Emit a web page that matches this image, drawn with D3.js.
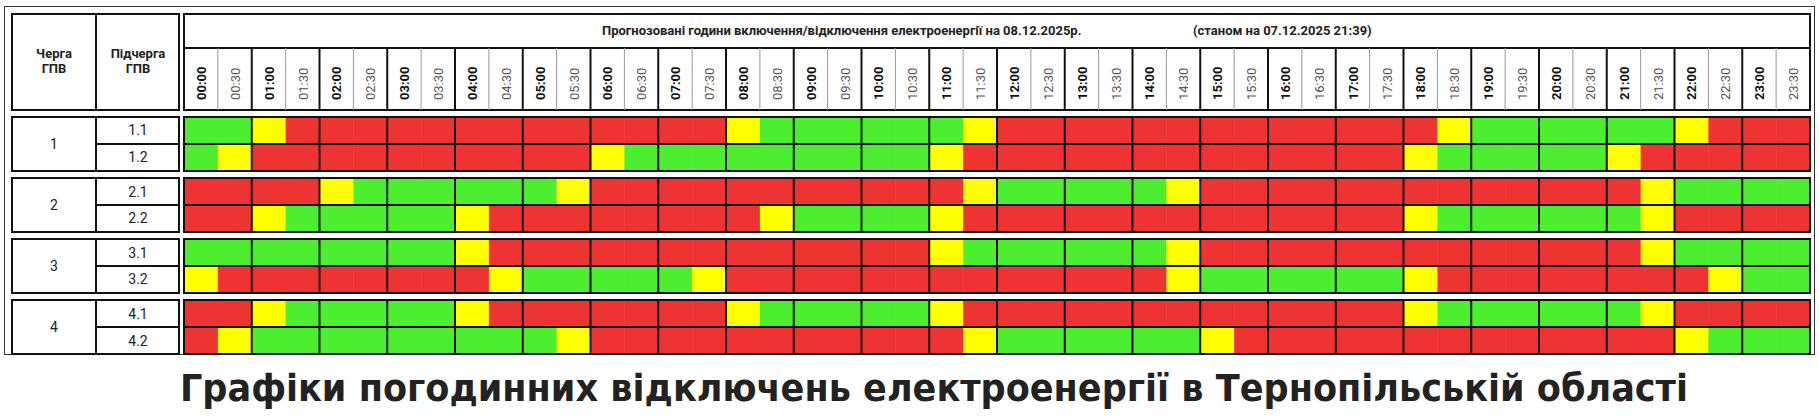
<!DOCTYPE html>
<html><head><meta charset="utf-8">
<script src="https://cdn.jsdelivr.net/npm/d3@7"></script>
<style>body{margin:0;background:#fff}</style>
</head><body><svg id="chart" width="1819" height="417"></svg>
<script>
// черги / підчерги
var queues = ["1", "2", "3", "4"];
var subQueues = ["1.1", "1.2", "2.1", "2.2", "3.1", "3.2", "4.1", "4.2"];
// G - є світло, R - відключення, Y - можливе
var slots1_1 = "GGYRRRRRRRRRRRRRRRYGGGGGGYRRRRRRRRRRRRRYGGGGGGYRRR";
var rows = {
  "1.1": "GG YR RR RR RR RR RR RR YG GG GG GY RR RR RR RR RR RR RY GG GG GG YR RR",
  "1.2": "GY RR RR RR RR RR YG GG GG GG GG YR RR RR RR RR RR RR YG GG GG YR RR RR",
  "2.1": "RR RR YG GG GG GY RR RR RR RR RR RY GG GG GY RR RR RR RR RR RR RY GG GG",
  "2.2": "RR YG GG GG YR RR RR RR RY GG GG YR RR RR RR RR RR RR YG GG GG GY RR RR",
  "3.1": "GG GG GG GG YR RR RR RR RR RR RR YG GG GG GY RR RR RR RR RR RR RY GG GG",
  "3.2": "YR RR RR RR RY GG GG GY RR RR RR RR RR RR RY GG GG GG YR RR RR RR RY GG",
  "4.1": "RR YG GG GG YR RR RR RR YG GG GG YR RR RR RR RR RR RR YG GG GG GY RR RR",
  "4.2": "RY GG GG GG GG GY RR RR RR RR RR RY GG GG GG YR RR RR RR RR RR RR YG GG"
};
var times = [];
for (var h = 0; h < 24; h++) {
  var hh = (h < 10 ? "0" : "") + h;
  times.push(hh + ":00", hh + ":30");
}
var title = "Прогнозовані години включення/відключення електроенергії на 08.12.2025р.";
var stamp = "(станом на 07.12.2025 21:39)";
var footer = "Графіки погодинних відключень електроенергії в Тернопільській області";

var colors = {G: "#4ded30", R: "#ee3333", Y: "#ffff00"};
var svg = d3.select("#chart");
var dark = "#111";

var x = d3.scaleBand().domain(times).range([184, 1810]);
var groupY = d3.scaleBand().domain(queues).range([117, 354]).paddingInner(0.115).paddingOuter(0);
function rowY(sq) { return groupY(sq.split(".")[0]) + (sq.split(".")[1] - 1) * groupY.bandwidth() / 2; }
var rowH = groupY.bandwidth() / 2;

// outer frame
svg.append("rect").attr("x", 4.5).attr("y", 6.5).attr("width", 1810).attr("height", 348)
  .attr("fill", "none").attr("stroke", "#333").attr("stroke-width", 1);

// header
svg.append("rect").attr("x", 12).attr("y", 14).attr("width", 167).attr("height", 96)
  .attr("fill", "#fff").attr("stroke", dark).attr("stroke-width", 2);
svg.append("line").attr("x1", 96).attr("x2", 96).attr("y1", 14).attr("y2", 110).attr("stroke", dark).attr("stroke-width", 2);
svg.append("rect").attr("x", 184).attr("y", 14).attr("width", 1626).attr("height", 96)
  .attr("fill", "#fff").attr("stroke", dark).attr("stroke-width", 2);
svg.append("line").attr("x1", 184).attr("x2", 1810).attr("y1", 48).attr("y2", 48).attr("stroke", dark).attr("stroke-width", 2);

[["Черга", "ГПВ", 54], ["Підчерга", "ГПВ", 138]].forEach(function (d) {
  var t = svg.append("text").attr("text-anchor", "middle").attr("font-family", "Roboto, sans-serif")
    .attr("font-weight", "bold").attr("font-size", 13).attr("fill", "#222");
  t.append("tspan").attr("x", d[2]).attr("y", 58).text(d[0]);
  t.append("tspan").attr("x", d[2]).attr("y", 73).text(d[1]);
});

svg.append("text").attr("x", 602).attr("y", 35).attr("font-family", "Roboto, sans-serif")
  .attr("font-weight", "bold").attr("font-size", 13).attr("fill", "#222").text(title);
svg.append("text").attr("x", 1193).attr("y", 35).attr("font-family", "Roboto, sans-serif")
  .attr("font-weight", "bold").attr("font-size", 13).attr("fill", "#222").text(stamp);

svg.selectAll(".hline").data(times.slice(1)).enter().append("line")
  .attr("x1", function (d) { return x(d); }).attr("x2", function (d) { return x(d); })
  .attr("y1", 48).attr("y2", 110)
  .attr("stroke", function (d, i) { return i % 2 ? dark : "#999"; })
  .attr("stroke-width", function (d, i) { return i % 2 ? 2 : 1; });

svg.selectAll(".tlabel").data(times).enter().append("text")
  .attr("transform", function (d) { return "translate(" + (x(d) + x.bandwidth() / 2 + 5) + ",100) rotate(-90)"; })
  .attr("font-family", "Roboto, sans-serif").attr("font-size", 13)
  .attr("font-weight", function (d, i) { return i % 2 ? "normal" : "bold"; })
  .attr("fill", function (d, i) { return i % 2 ? "#555" : "#111"; })
  .text(function (d) { return d; });

// cells
subQueues.forEach(function (sq) {
  var codes = rows[sq].replace(/ /g, "").split("");
  svg.selectAll(".c" + sq.replace(".", "_")).data(codes).enter().append("rect")
    .attr("x", function (d, i) { return x(times[i]); })
    .attr("y", rowY(sq)).attr("width", x.bandwidth() + 0.5).attr("height", rowH)
    .attr("fill", function (d) { return colors[d]; });
});

// groups: left cells and grid lines
queues.forEach(function (q) {
  var y0 = groupY(q), gh = groupY.bandwidth();
  svg.append("rect").attr("x", 12).attr("y", y0).attr("width", 167).attr("height", gh)
    .attr("fill", "none").attr("stroke", dark).attr("stroke-width", 2);
  svg.append("line").attr("x1", 96).attr("x2", 96).attr("y1", y0).attr("y2", y0 + gh).attr("stroke", dark).attr("stroke-width", 2);
  svg.append("line").attr("x1", 96).attr("x2", 179).attr("y1", y0 + rowH).attr("y2", y0 + rowH).attr("stroke", dark).attr("stroke-width", 2);
  svg.append("text").attr("x", 54).attr("y", y0 + gh / 2 + 5).attr("text-anchor", "middle")
    .attr("font-family", "Roboto, sans-serif").attr("font-size", 14).attr("fill", "#222").text(q);
  svg.append("rect").attr("x", 184).attr("y", y0).attr("width", 1626).attr("height", gh)
    .attr("fill", "none").attr("stroke", dark).attr("stroke-width", 2);
  svg.append("line").attr("x1", 184).attr("x2", 1810).attr("y1", y0 + rowH).attr("y2", y0 + rowH).attr("stroke", dark).attr("stroke-width", 2);
  svg.selectAll(".v" + q).data(times.filter(function (d, i) { return i % 2 == 0 && i > 0; })).enter().append("line")
    .attr("x1", function (d) { return x(d); }).attr("x2", function (d) { return x(d); })
    .attr("y1", y0).attr("y2", y0 + gh).attr("stroke", dark).attr("stroke-width", 2);
});
subQueues.forEach(function (sq) {
  svg.append("text").attr("x", 138).attr("y", rowY(sq) + rowH / 2 + 5).attr("text-anchor", "middle")
    .attr("font-family", "Roboto, sans-serif").attr("font-size", 14).attr("fill", "#222").text(sq);
});

svg.append("text").attr("x", 180).attr("y", 401).attr("textLength", 1508).attr("lengthAdjust", "spacingAndGlyphs")
  .attr("font-family", "DejaVu Sans, sans-serif").attr("font-weight", "bold").attr("font-size", 38)
  .attr("fill", "#222").text(footer);
</script></body></html>
